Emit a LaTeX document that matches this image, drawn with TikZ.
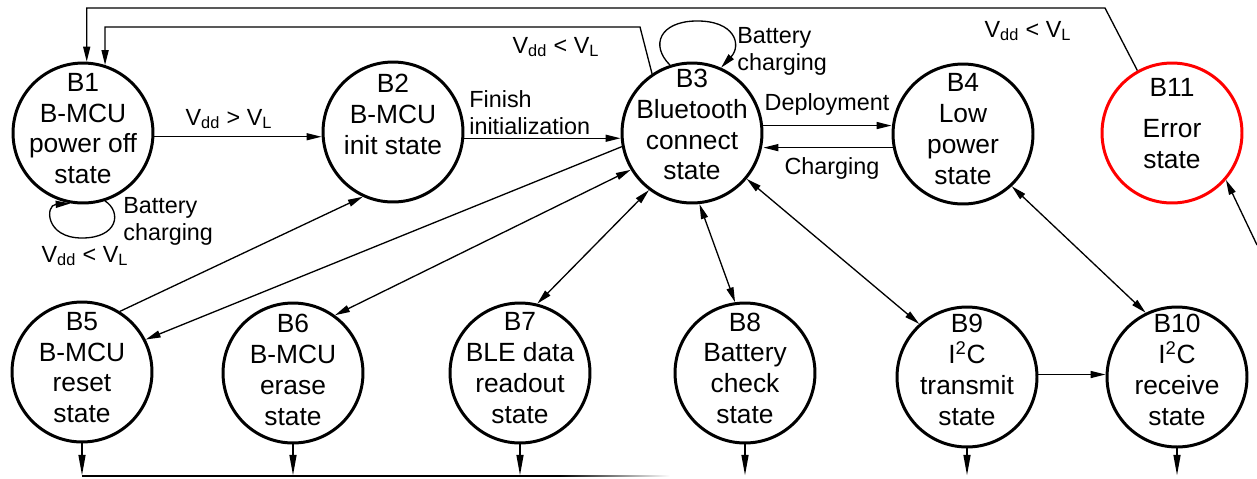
\documentclass[tikz,border=0pt]{standalone}
\usepackage{fontspec}
\setmainfont{Liberation Sans}
\usetikzlibrary{arrows.meta}
\begin{document}
\begin{tikzpicture}[x=0.02cm,y=-0.02cm,
  state/.style={circle,draw,line width=1.7pt,minimum size=2.8cm,inner sep=0pt},
  stxt/.style={align=center,inner sep=0pt,font=\fontsize{15}{17.5}\selectfont},
  lbl/.style={font=\fontsize{13.3}{15.3}\selectfont,inner sep=0pt},
  conn/.style={line width=0.75pt},
  arr/.style={conn,-{Triangle[length=8.5pt,width=4pt]}},
  darr/.style={conn,{Triangle[length=8.5pt,width=4pt]}-{Triangle[length=8.5pt,width=4pt]}},
  barr/.style={line width=1.3pt,-{Triangle[length=12pt,width=3.8pt]}}]
\useasboundingbox (0,0) rectangle (1257,478);

% states
\node[state,label={[stxt,name=tB1,yshift=2.5pt]center:{B1\\B-MCU\\power off\\state}}] (B1) at (83,133) {};
\node[state,label={[stxt,name=tB2,yshift=9.9pt]center:{B2\\B-MCU\\init state}}] (B2) at (393,132) {};
\node[state,label={[stxt,name=tB3,yshift=4.8pt]center:{B3\\Bluetooth\\connect\\state}}] (B3) at (692,133) {};
\node[state,label={[stxt,name=tB4,yshift=2.8pt]center:{B4\\Low\\power\\state}}] (B4) at (963,134) {};
\node[state,draw=red,label={[stxt,name=tB11,yshift=5.4pt]center:{B11\\[5.5pt]Error\\state}}] (B11) at (1172,133) {};
\node[state,label={[stxt,name=tB5,yshift=2.5pt]center:{B5\\B-MCU\\reset\\state}}] (B5) at (82,372) {};
\node[state,label={[stxt,name=tB6,yshift=1.7pt]center:{B6\\B-MCU\\erase\\state}}] (B6) at (293,373) {};
\node[state,label={[stxt,name=tB7,yshift=2.8pt]center:{B7\\BLE data\\readout\\state}}] (B7) at (520,373) {};
\node[state,label={[stxt,name=tB8,yshift=2.8pt]center:{B8\\Battery\\check\\state}}] (B8) at (745,373) {};
\node[state,label={[stxt,name=tB9,yshift=4pt]center:{B9\\I\textsuperscript{2}C\\transmit\\state}}] (B9) at (967,377) {};
\node[state,label={[stxt,name=tB10,yshift=4pt]center:{B10\\I\textsuperscript{2}C\\receive\\state}}] (B10) at (1177,377) {};

% labels
\node[lbl] (l1) at (229,119) {V\textsubscript{dd} > V\textsubscript{L}};
\node[lbl,align=left,anchor=west] (l2) at (469,113) {Finish\\initialization};
\node[lbl] (l3) at (827,104) {Deployment};
\node[lbl] (l4) at (832,168) {Charging};
\node[lbl,align=left,anchor=west] (l5) at (123,221) {Battery\\charging};
\node[lbl] (l6) at (85,256) {V\textsubscript{dd} < V\textsubscript{L}};
\node[lbl,align=left,anchor=west] (l7) at (737,51) {Battery\\charging};
\node[lbl] (l8) at (556,47) {V\textsubscript{dd} < V\textsubscript{L}};
\node[lbl] (l9) at (1028,31) {V\textsubscript{dd} < V\textsubscript{L}};

% bend points
\coordinate (k1) at (640,27);
\coordinate (k2) at (1105,8);
\coordinate (e11) at (1257,245);
\coordinate (bot) at (0,476);

% horizontal transitions
\draw[arr] (B1.-3) -- (B1.-3 -| B2.west);
\draw[arr] (B2.-5) -- (B2.-5 -| B3.west);
\draw[arr] (B3.6) -- (B3.6 -| B4.west);
\draw[arr] (B4.191) -- (B4.191 -| B3.east);
\draw[arr] (B9.2) -- (B9.2 -| B10.west);

% returns to B1
\draw[arr] (B3.124) -- (k1) -| (B1.72);
\draw[arr] (B11.119) -- (k2) -| (B1.87);

% self loops
\draw[arr] (B1.-72) .. controls (122,212) and (118,238) .. (82,238)
  .. controls (45,238) and (45,205) .. (B1.-100);
\draw[arr] (B3.108) .. controls (650,45) and (660,22) .. (695,21)
  .. controls (735,20) and (742,45) .. (B3.66);

% diagonal transitions
\draw[arr] (B5.58) -- (B2.245);
\draw[arr] (B3.191.5) -- (B5.27);
\draw[darr] (B3.211) -- (B6.54);
\draw[darr] (B3.233) -- (B7.76);
\draw[darr] (B3.276) -- (B8.98);
\draw[darr] (B3.320) -- (B9.132);
\draw[darr] (B4.313) -- (B10.116);
\draw[arr] (e11) -- (B11.319);

% bottom outputs
\foreach \n in {B5,B6,B7,B8,B9,B10}
  \draw[barr] (\n.south) -- (\n.south |- bot);
\draw[line width=1.2pt] (B5.south |- bot) -- (560,476);
\shade[left color=black,right color=white] (559,475.3) rectangle (670,476.8);
\end{tikzpicture}
\end{document}
